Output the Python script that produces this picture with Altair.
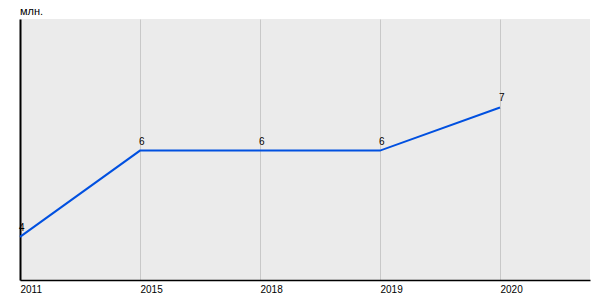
import altair as alt
import pandas as pd

years = ["2011", "2015", "2018", "2019", "2020"]
values = [4, 6, 6, 6, 7]

df = pd.DataFrame({"idx": list(range(len(years))), "year": years, "value": values})

label_expr = "[" + ",".join(f"'{y}'" for y in years) + "][datum.value]"

x = alt.X("idx:Q",
          scale=alt.Scale(domain=[0, 4.75], nice=False, zero=False),
          axis=alt.Axis(values=list(range(len(years))), labelExpr=label_expr, title=None,
                        ticks=False, labelAlign="left", labelBaseline="middle", labelPadding=9,
                        labelFont="Liberation Sans", labelFontSize=10, labelColor="#000000",
                        domainColor="#000000", domainWidth=1.5, grid=True, gridColor="#c8c8c8",
                        gridWidth=1, labelFlush=False, labelOverlap=False))
y = alt.Y("value:Q",
          scale=alt.Scale(domain=[3, 9.05], nice=False, zero=False),
          axis=alt.Axis(title=None, labels=False, ticks=False, grid=False,
                        domainColor="#000000", domainWidth=2))

line = alt.Chart(df).mark_line(color="#0050e0", strokeWidth=2).encode(x=x, y=y)
text = alt.Chart(df).mark_text(align="left", baseline="bottom", dx=-1, dy=-4,
                               font="Liberation Sans", fontSize=10, color="#000000").encode(
    x="idx:Q", y="value:Q", text="value:Q")

chart = alt.layer(line, text).properties(
    width=570, height=261,
    title=alt.TitleParams("млн.", anchor="start", frame="group", font="Liberation Sans", fontSize=11,
                          fontWeight="normal", color="#000000", offset=2),
    padding={"left": 20, "top": 19, "right": 10, "bottom": 20},
    autosize=alt.AutoSizeParams(type="none"),
    background="#ffffff",
).configure_view(fill="#ebebeb", stroke=None)

chart.save("out.html", embed_options={"renderer": "svg", "actions": False})
